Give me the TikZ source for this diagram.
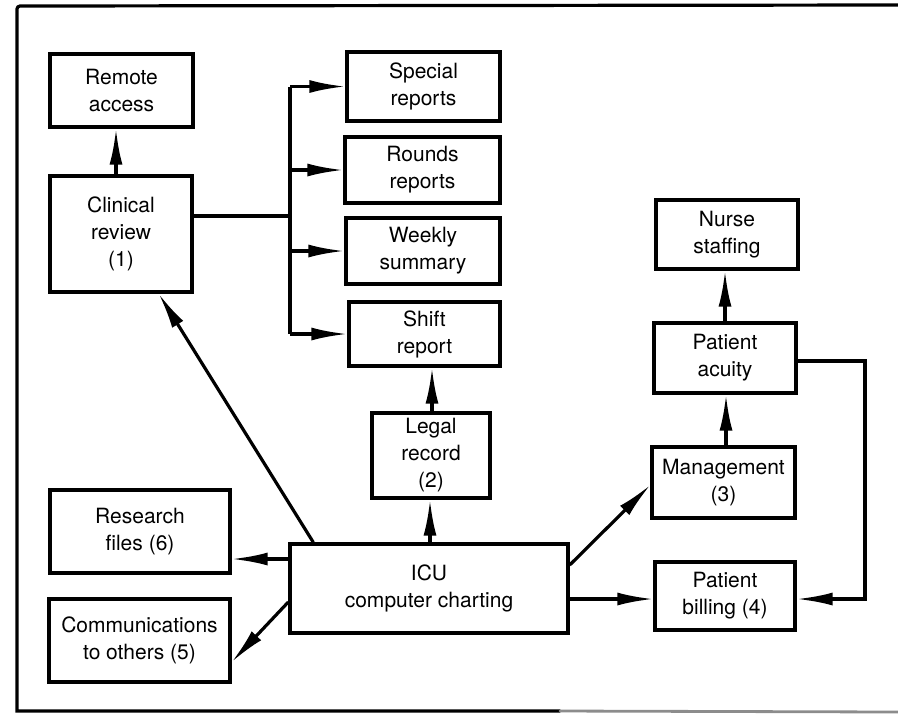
\documentclass[tikz,border=0pt]{standalone}
\usepackage{fontspec}
\setmainfont{TeX Gyre Heros}
\usetikzlibrary{arrows.meta}

\tikzset{
  box/.style={draw, line width=1.7pt, rectangle, align=center, inner sep=0pt,
              font=\fontsize{10.5}{13.5}\selectfont},
  link/.style={line width=1.6pt},
  arr/.style={link, -{Latex[length=18pt,width=6.5pt]}},
  frameline/.style={line width=1.4pt, line cap=round},
}

\begin{document}
\begin{tikzpicture}[x=0.5pt,y=-0.5pt]
  \useasboundingbox (0,0) rectangle (898,714);

  % page frame
  \draw[frameline, line width=1.6pt] (898,5) -- (20,6) to[out=180,in=90] (17,9) -- (17,711) -- (560,711);
  \draw[frameline, black!45] (560,711) -- (898,712);

  % boxes
  \node[box, minimum width=71.5pt, minimum height=36.5pt] (remote)   at (121.5,90.5) {Remote\\access};
  \node[box, minimum width=71pt,   minimum height=58pt]   (clinical) at (121,234)    {Clinical\\review\\(1)};
  \node[box, minimum width=76.5pt, minimum height=34.5pt] (special)  at (423.5,86.5) {Special\\reports};
  \node[box, minimum width=77.5pt, minimum height=33pt]   (rounds)   at (422.5,170)  {Rounds\\reports};
  \node[box, minimum width=77pt,   minimum height=33pt]   (weekly)   at (423,251)    {Weekly\\summary};
  \node[box, minimum width=75.5pt, minimum height=32pt]   (shift)    at (424.5,334)  {Shift\\report};
  \node[box, minimum width=59pt,   minimum height=42.5pt] (legal)    at (431,455.5)  {Legal\\record\\(2)};
  \node[box, minimum width=139pt,  minimum height=44.5pt] (icu)      at (429,588.5)  {ICU\\computer charting};
  \node[box, minimum width=90pt,   minimum height=41.5pt] (research) at (140,531.5)  {Research\\files (6)};
  \node[box, minimum width=90.5pt, minimum height=41.5pt] (comm)     at (139.5,640.5) {Communications\\to others (5)};
  \node[box, minimum width=71pt,   minimum height=34.5pt] (nurse)    at (727,234.5)  {Nurse\\staffing};
  \node[box, minimum width=71pt,   minimum height=35pt]   (acuity)   at (725,358)    {Patient\\acuity};
  \node[box, minimum width=71.5pt, minimum height=35.5pt] (mgmt)     at (723.5,482.5) {Management\\(3)};
  \node[box, minimum width=70pt,   minimum height=34pt]   (billing)  at (725,596)    {Patient\\billing (4)};

  % report bus fed by the clinical review
  \coordinate (busjoin) at (290,216);
  \coordinate (loopright) at (865,361);
  \draw[link] (clinical.east |- busjoin) -- (busjoin);
  \draw[link] (special.west -| busjoin) -- (shift.west -| busjoin);
  \foreach \r in {special,rounds,weekly,shift}
    \draw[arr] (\r.west -| busjoin) -- (\r.west);

  % connectors
  \draw[arr] (clinical.north -| 116,0) -- (remote.south -| 116,0);
  \draw[arr] (legal.north -| 432,0) -- (shift.south -| 432,0);
  \draw[arr] (icu.north -| 430,0) -- (legal.south -| 430,0);
  \draw[arr] ([xshift=12.5pt]icu.north west) -- ([xshift=-17.5pt]clinical.south east);
  \draw[arr] (icu.west |- 0,559) -- (research.east |- 0,559);
  \draw[arr] (icu.west |- 0,602) -- (comm.east |- 0,662);
  \draw[arr] (icu.east |- 0,565) -- (mgmt.west |- 0,485);
  \draw[arr] (icu.east |- 0,599) -- (billing.west |- 0,599);
  \draw[arr] (mgmt.north -| 726,0) -- (acuity.south -| 726,0);
  \draw[arr] (acuity.north -| 725,0) -- (nurse.south -| 725,0);
  \draw[arr] (acuity.east |- loopright) -- (loopright) -- (loopright |- 0,599) -- (billing.east |- 0,599);
\end{tikzpicture}
\end{document}
